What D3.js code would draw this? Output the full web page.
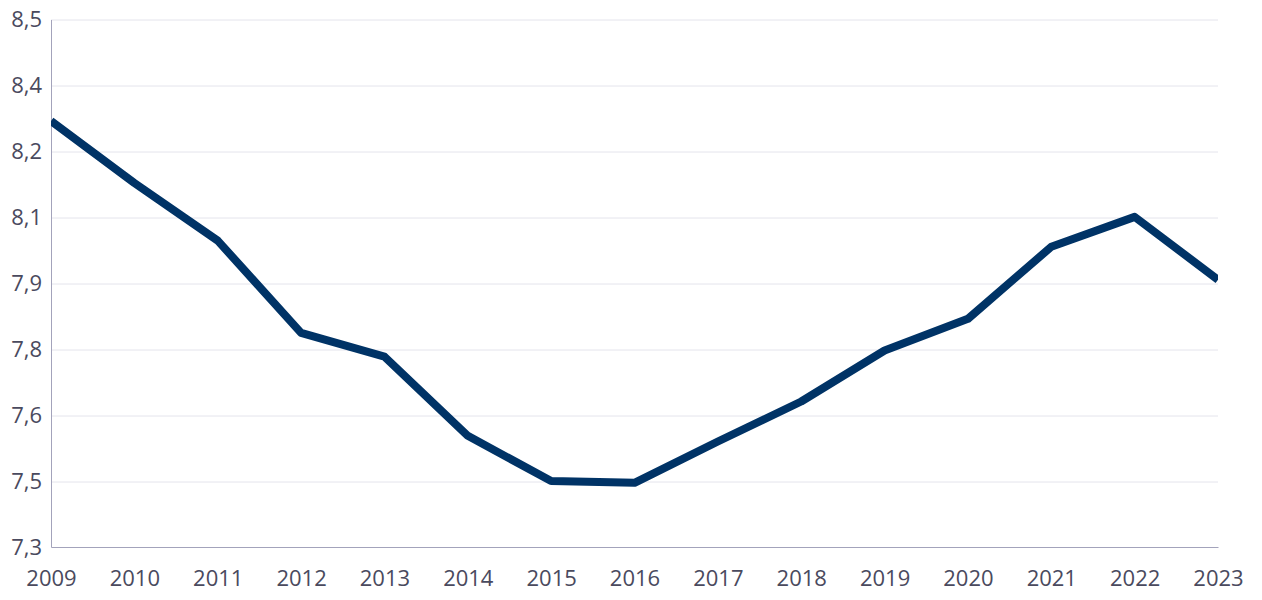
<!DOCTYPE html><html lang="en">
<head>
  <meta charset="UTF-8">
  <title>Line chart 2009-2023</title>
  <script src="https://d3js.org/d3.v7.min.js"></script>
  <style>
    body {
      margin: 0;
      background: white;
    }
    .tick text {
      fill: #4a4a5e;
    }
    .grid line {
      stroke: #e4e4ec;
      stroke-width: 1;
    }
  </style>
</head>
<body>
<svg width="1262" height="600"></svg>
<script>
const years = [2009, 2010, 2011, 2012, 2013, 2014, 2015, 2016, 2017, 2018, 2019, 2020, 2021, 2022, 2023];
const values = [8.269, 8.128, 7.997, 7.787, 7.733, 7.553, 7.450, 7.446, 7.540, 7.631, 7.747, 7.819, 7.983, 8.051, 7.908];
const yTicks = [7.3, 7.45, 7.6, 7.75, 7.9, 8.05, 8.2, 8.35, 8.5];
const yTickLabels = ["7,3", "7,5", "7,6", "7,8", "7,9", "8,1", "8,2", "8,4", "8,5"];

const margin = { top: 19.5, right: 44, bottom: 53, left: 51 };
const width = 1262 - margin.left - margin.right;
const height = 600 - margin.top - margin.bottom;

const svg = d3.select("svg");
const g = svg.append("g")
  .attr("transform", `translate(${margin.left},${margin.top})`);

const x = d3.scaleLinear().domain([2009, 2023]).range([0, width]);
const y = d3.scaleLinear().domain([7.3, 8.5]).range([height, 0]);

// gridlines
g.append("g")
  .attr("class", "grid")
  .selectAll("line")
  .data(yTicks.slice(1))
  .enter()
  .append("line")
  .attr("x1", 0)
  .attr("x2", width)
  .attr("y1", d => Math.round(y(d)) + 0.5)
  .attr("y2", d => Math.round(y(d)) + 0.5);

// y axis
const yAxis = g.append("g")
  .call(d3.axisLeft(y)
    .tickValues(yTicks)
    .tickSize(0)
    .tickPadding(9)
    .tickFormat((d, i) => yTickLabels[i]));
yAxis.attr("font-family", "'Open Sans', sans-serif").attr("font-size", 22);
yAxis.select(".domain").attr("stroke", "#a3a3bb");

// x axis
const xAxis = g.append("g")
  .attr("transform", `translate(0,${height})`)
  .call(d3.axisBottom(x)
    .tickValues(years)
    .tickSize(0)
    .tickPadding(23)
    .tickFormat(d3.format("d")));
xAxis.attr("font-family", "'Open Sans', sans-serif").attr("font-size", 22);
xAxis.select(".domain").attr("stroke", "#a3a3bb");

// clip so the line ends flush with plot edges
svg.append("defs").append("clipPath")
  .attr("id", "plot")
  .append("rect")
  .attr("x", 0)
  .attr("y", -10)
  .attr("width", width)
  .attr("height", height + 20);

const line = d3.line()
  .x((d, i) => x(years[i]))
  .y(d => y(d));

g.append("path")
  .datum(values)
  .attr("clip-path", "url(#plot)")
  .attr("fill", "none")
  .attr("stroke", "#003366")
  .attr("stroke-width", 8)
  .attr("stroke-linejoin", "round")
  .attr("d", line);
</script>
</body>
</html>
